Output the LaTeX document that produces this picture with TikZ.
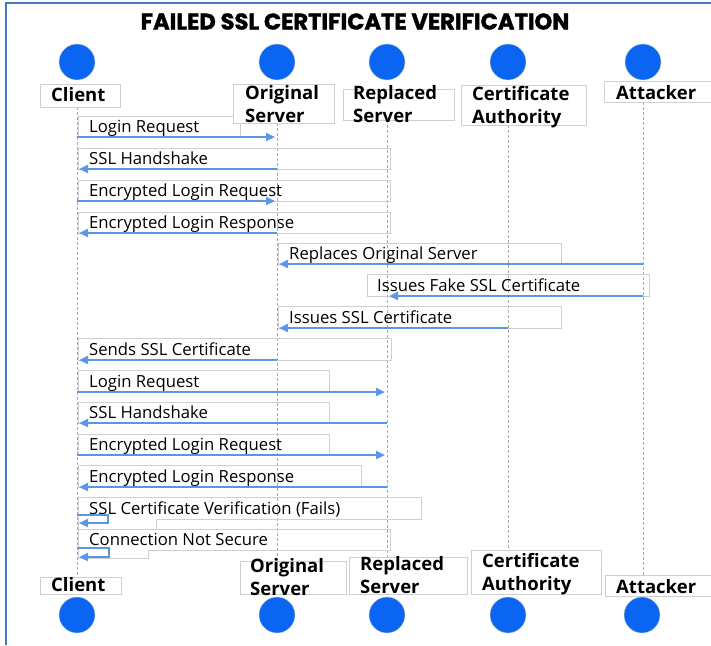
\documentclass[tikz,border=0pt]{standalone}
\usepackage{fontspec}
\setmainfont{Open Sans}
\newfontfamily\titlefont{Poppins}[BoldFeatures={FakeBold=1.6}]
\usetikzlibrary{arrows.meta}
\definecolor{framec}{HTML}{4677BE}
\definecolor{dotc}{HTML}{0A66F2}
\definecolor{arrc}{HTML}{5B95E8}
\definecolor{boxc}{HTML}{CFCFCF}
\definecolor{lifec}{HTML}{A8A8A8}
\tikzset{
  frameline/.style={draw=framec, line width=2pt},
  actordot/.style={circle, fill=dotc, draw=gray!40, line width=0.4pt, minimum size=36pt, inner sep=0pt},
  headbox/.style={draw=boxc, fill=white, line width=0.9pt},
  headtext/.style={font=\fontsize{18.5}{23}\selectfont\bfseries, anchor=base west, inner sep=0pt, align=left},
  lblbox/.style={draw=boxc, line width=0.9pt},
  lbltext/.style={font=\fontsize{16.7}{20}\selectfont, anchor=base west, inner sep=0pt},
  lifeline/.style={draw=lifec, line width=0.8pt, dash pattern=on 3pt off 2pt},
  msgarrow/.style={draw=arrc, line width=2.2pt, -{Triangle[length=9pt,width=8pt]}},
}
\begin{document}
\begin{tikzpicture}[x=1pt,y=-1pt]
\useasboundingbox (0,0) rectangle (711,645);
\fill[white] (0,0) rectangle (711,645);
% frame
\coordinate (fa) at (5.5,645);
\coordinate (fb) at (5.5,3);
\coordinate (fc) at (711,3);
\draw[frameline] (fa) -- (fb) -- (fc);
% title
\node[font=\titlefont\fontsize{22.6}{26}\selectfont\bfseries, anchor=base, inner sep=0pt] (title) at (355,29.5) {FAILED SSL CERTIFICATE VERIFICATION};

% lifeline end points
\coordinate (cT) at (77,107);   \coordinate (cB) at (77,577);
\coordinate (oT) at (277,123);  \coordinate (oB) at (277,561);
\coordinate (rT) at (387,120);  \coordinate (rB) at (387,557);
\coordinate (aT) at (508,125);  \coordinate (aB) at (508,550);
\coordinate (kT) at (643,102);  \coordinate (kB) at (643,575);
\foreach \a in {c,o,r,a,k} { \draw[lifeline] (\a T) -- (\a B); }

% message label boxes and texts
\draw[lblbox] (78,116) rectangle (240,137);
\node[lbltext] (t1) at (89,132) {Login Request};
\draw[lblbox] (78,148) rectangle (390,169);
\node[lbltext] (t2) at (89,164) {SSL Handshake};
\draw[lblbox] (78,180) rectangle (390,201);
\node[lbltext] (t3) at (89,196) {Encrypted Login Request};
\draw[lblbox] (78,212) rectangle (390,233);
\node[lbltext] (t4) at (89,228) {Encrypted Login Response};
\draw[lblbox] (278,243) rectangle (561,264);
\node[lbltext] (t5) at (289,259) {Replaces Original Server};
\draw[lblbox] (367,274) rectangle (649,296);
\node[lbltext] (t6) at (377,291) {Issues Fake SSL Certificate};
\draw[lblbox] (278,306) rectangle (561,328);
\node[lbltext] (t7) at (289,323) {Issues SSL Certificate};
\draw[lblbox] (78,338) rectangle (391,360);
\node[lbltext] (t8) at (89,355) {Sends SSL Certificate};
\draw[lblbox] (78,370) rectangle (329,392);
\node[lbltext] (t9) at (89,387) {Login Request};
\draw[lblbox] (78,402) rectangle (329,423);
\node[lbltext] (t10) at (89,418) {SSL Handshake};
\draw[lblbox] (78,434) rectangle (329,455);
\node[lbltext] (t11) at (89,450) {Encrypted Login Request};
\draw[lblbox] (78,465) rectangle (361,487);
\node[lbltext] (t12) at (89,482) {Encrypted Login Response};
\draw[lblbox] (78,497) -- (421,497) -- (421,519) -- (156,519) -- (156,529) -- (78,529) -- cycle;
\node[lbltext] (t13) at (89,514) {SSL Certificate Verification (Fails)};
\draw[lblbox] (78,529) -- (390,529) -- (390,550) -- (148,550) -- (148,558) -- (78,558) -- cycle;
\node[lbltext] (t14) at (89,545) {Connection Not Secure};

% message arrows
\coordinate (m1a) at (77,137);  \coordinate (m1b) at (275,137);
\coordinate (m2a) at (277,169); \coordinate (m2b) at (79,169);
\coordinate (m3a) at (77,201);  \coordinate (m3b) at (275,201);
\coordinate (m4a) at (277,233); \coordinate (m4b) at (79,233);
\coordinate (m5a) at (643,264); \coordinate (m5b) at (279,264);
\coordinate (m6a) at (643,296); \coordinate (m6b) at (389,296);
\coordinate (m7a) at (508,328); \coordinate (m7b) at (279,328);
\coordinate (m8a) at (277,360); \coordinate (m8b) at (79,360);
\coordinate (m9a) at (77,392);  \coordinate (m9b) at (385,392);
\coordinate (m10a) at (387,423); \coordinate (m10b) at (79,423);
\coordinate (m11a) at (77,455);  \coordinate (m11b) at (385,455);
\coordinate (m12a) at (387,487); \coordinate (m12b) at (79,487);
\foreach \i in {1,...,12} { \draw[msgarrow] (m\i a) -- (m\i b); }
\coordinate (m13a) at (77,515); \coordinate (m13b) at (79,523);
\draw[msgarrow] (m13a) -- ++(31,0) |- (m13b);
\coordinate (m14a) at (77,548); \coordinate (m14b) at (79,557);
\draw[msgarrow] (m14a) -- ++(32,0) |- (m14b);

% top heads (multi-line texts are placed by the baseline of their last line)
\draw[headbox] (40,84) rectangle (120,107);
\node[headtext] (hc) at (51,101) {Client};
\draw[headbox] (233,84) rectangle (334,123);
\node[headtext] (ho) at (245,122) {Original\\Server};
\draw[headbox] (343,89) rectangle (454,120);
\node[headtext] (hr) at (353,122) {Replaced\\Server};
\draw[headbox] (461,85) rectangle (586,125);
\node[headtext] (ha) at (472,123) {Certificate\\Authority};
\draw[headbox] (604,81) rectangle (716,102);
\node[headtext] (hk) at (616,99) {Attacker};

% bottom heads
\draw[headbox] (40,577) rectangle (121,594);
\node[headtext] (bc) at (51,591) {Client};
\draw[headbox] (240,561) rectangle (346,594);
\node[headtext] (bo) at (250,595) {Original\\Server};
\draw[headbox] (349,557) rectangle (467,594);
\node[headtext] (br) at (360,593) {Replaced\\Server};
\draw[headbox] (471,550) rectangle (601,594);
\node[headtext] (ba) at (482,590) {Certificate\\Authority};
\draw[headbox] (605,575) rectangle (716,596);
\node[headtext] (bk) at (616,593) {Attacker};

% actor dots
\node[actordot] (dc) at (77,62) {};
\node[actordot] (do) at (277,62) {};
\node[actordot] (dr) at (387,62) {};
\node[actordot] (da) at (508,62) {};
\node[actordot] (dk) at (643,62) {};
\node[actordot] (ec) at (77,615) {};
\node[actordot] (eo) at (277,615) {};
\node[actordot] (er) at (387,615) {};
\node[actordot] (ea) at (508,615) {};
\node[actordot] (ek) at (642,615) {};
\end{tikzpicture}
\end{document}
